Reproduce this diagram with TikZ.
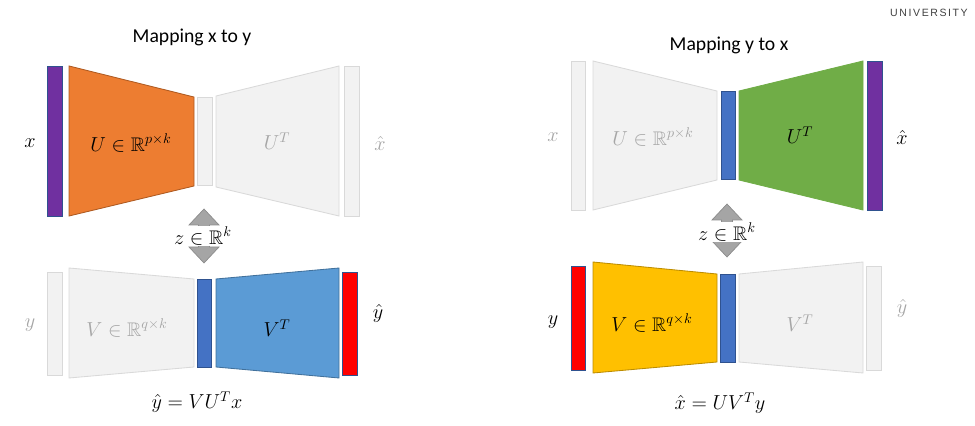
\documentclass[tikz,border=0pt]{standalone}
\usepackage{fontspec}
\usepackage{amsmath}
\usepackage{amssymb}
\newfontfamily\titlefont{Carlito}
\newfontfamily\logofont[LetterSpace=15]{Liberation Sans}

\definecolor{xpurple}{HTML}{7030A0}
\definecolor{uorange}{HTML}{ED7D31}
\definecolor{orangeline}{HTML}{AE5A21}
\definecolor{zblue}{HTML}{4472C4}
\definecolor{blueline}{HTML}{2F528F}
\definecolor{vtblue}{HTML}{5B9BD5}
\definecolor{vtline}{HTML}{41719C}
\definecolor{yred}{HTML}{FF0000}
\definecolor{ugreen}{HTML}{70AD47}
\definecolor{vyellow}{HTML}{FFC000}
\definecolor{yellowline}{HTML}{BC8C00}
\definecolor{ghostfill}{HTML}{F2F2F2}
\definecolor{ghostline}{HTML}{D9D9D9}
\definecolor{textgray}{HTML}{A6A6A6}
\definecolor{arrowgray}{HTML}{A5A5A5}
\definecolor{arrowline}{HTML}{8C8C8C}

\begin{document}
\begin{tikzpicture}[x=0.025cm,y=-0.025cm,
    blk/.style={line width=0.6pt},
    ghost/.style={blk,fill=ghostfill,draw=ghostline},
    mlabel/.style={font=\fontsize{14}{16}\selectfont,inner sep=1pt},
    ghosttext/.style={text=textgray},
    title/.style={font=\titlefont\fontsize{14}{17}\selectfont},
    zarrow/.style={fill=arrowgray,draw=arrowline,line width=0.5pt},
    zlabel/.style={mlabel,fill=white}]
\useasboundingbox (0,0) rectangle (975,426);

% logo
\node[font=\logofont\fontsize{7.5}{9}\selectfont,text=black!75] (logo) at (929,13) {UNIVERSITY};

% mapping x to y, top row
\node[title] (t1) at (192,37) {Mapping x to y};
\draw[blk,fill=xpurple,draw=blueline] (47,66) rectangle (62,216);
\draw[blk,fill=uorange,draw=orangeline] (69,66) -- (194,97) -- (194,186) -- (69,216) -- cycle;
\draw[ghost] (197,97) rectangle (212,185);
\draw[ghost] (216,96) -- (339,66) -- (339,216) -- (216,187) -- cycle;
\draw[ghost] (344,66) rectangle (359,216);
\node[mlabel] (x1) at (30,143) {$x$};
\node[mlabel] (U1) at (131,143) {$U\in\mathbb{R}^{p\times k}$};
\node[mlabel,ghosttext] (UT1) at (277,141) {$U^T$};
\node[mlabel,ghosttext] (xh1) at (380,143) {$\hat{x}$};

% latent arrow
\draw[zarrow] (204,209) -- ++(15,16) -- ++(-9.5,0) -- ++(0,22) -- ++(9.5,0) -- ++(-15,16)
    -- ++(-15,-16) -- ++(9.5,0) -- ++(0,-22) -- ++(-9.5,0) -- cycle;
\node[zlabel] (z1) at (203,236) {$z\in\mathbb{R}^k$};

% mapping x to y, bottom row
\draw[ghost] (47,272) rectangle (62,375);
\draw[ghost] (69,268) -- (194,279) -- (194,367) -- (69,378) -- cycle;
\draw[blk,fill=zblue,draw=blueline] (197,279) rectangle (211,367);
\draw[blk,fill=vtblue,draw=vtline] (216,279) -- (339,268) -- (339,378) -- (216,367) -- cycle;
\draw[blk,fill=yred,draw=blueline] (342,272) rectangle (357,375);
\node[mlabel,ghosttext] (y1) at (30,325) {$y$};
\node[mlabel,ghosttext] (V1) at (127,328) {$V\in\mathbb{R}^{q\times k}$};
\node[mlabel] (VT1) at (277,328) {$V^T$};
\node[mlabel] (yh1) at (378,313) {$\hat{y}$};
\node[mlabel] (eq1) at (197,402) {$\hat{y}=VU^Tx$};

% mapping y to x, top row
\node[title] (t2) at (729,45) {Mapping y to x};
\draw[ghost] (571,61) rectangle (585,210);
\draw[ghost] (593,61) -- (717,91) -- (717,180) -- (593,210) -- cycle;
\draw[blk,fill=zblue,draw=blueline] (721,91) rectangle (735,179);
\draw[blk,fill=ugreen,draw=ugreen] (739,91) -- (863,61) -- (863,210) -- (739,180) -- cycle;
\draw[blk,fill=xpurple,draw=blueline] (867,61) rectangle (882,210);
\node[mlabel,ghosttext] (x2) at (553,137) {$x$};
\node[mlabel,ghosttext] (U2) at (653,137) {$U\in\mathbb{R}^{p\times k}$};
\node[mlabel] (UT2) at (800,135) {$U^T$};
\node[mlabel] (xh2) at (902,137) {$\hat{x}$};

% latent arrow
\draw[zarrow] (727,204) -- ++(15,16) -- ++(-9.5,0) -- ++(0,21) -- ++(9.5,0) -- ++(-15,16)
    -- ++(-15,-16) -- ++(9.5,0) -- ++(0,-21) -- ++(-9.5,0) -- cycle;
\node[zlabel] (z2) at (727,232) {$z\in\mathbb{R}^k$};

% mapping y to x, bottom row
\draw[blk,fill=yred,draw=blueline] (571,266) rectangle (585,370);
\draw[blk,fill=vyellow,draw=yellowline] (593,262) -- (717,274) -- (717,362) -- (593,373) -- cycle;
\draw[blk,fill=zblue,draw=blueline] (720,274) rectangle (735,362);
\draw[ghost] (739,274) -- (863,262) -- (863,373) -- (739,362) -- cycle;
\draw[ghost] (866,266) rectangle (881,370);
\node[mlabel] (y2) at (553,322) {$y$};
\node[mlabel] (V2) at (652,323) {$V\in\mathbb{R}^{q\times k}$};
\node[mlabel,ghosttext] (VT2) at (800,323) {$V^T$};
\node[mlabel,ghosttext] (yh2) at (902,308) {$\hat{y}$};
\node[mlabel] (eq2) at (720,403) {$\hat{x}=UV^Ty$};
\end{tikzpicture}
\end{document}
